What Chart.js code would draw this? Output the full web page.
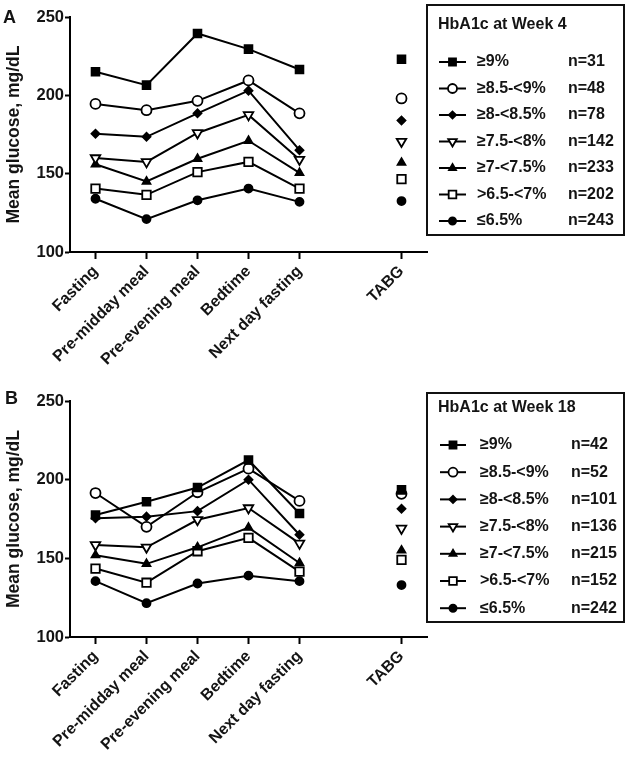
<!DOCTYPE html>
<html><head><meta charset="utf-8">
<script src="https://cdn.jsdelivr.net/npm/chart.js@4.4.0/dist/chart.umd.min.js"></script>
<style>
html,body{margin:0;padding:0;background:#fff;}
#wrap{position:relative;width:634px;height:757px;overflow:hidden;}
canvas{position:absolute;left:0;}
</style></head><body>
<div id="wrap">
<canvas id="cA" width="634" height="378" style="top:0"></canvas>
<canvas id="cB" width="634" height="379" style="top:378px"></canvas>
</div>
<script>
// ---- data ----
const categories = ['Fasting', 'Pre-midday meal', 'Pre-evening meal', 'Bedtime', 'Next day fasting', '', 'TABG'];
const groupLabels = ['≥9%', '≥8.5-<9%', '≥8-<8.5%', '≥7.5-<8%', '≥7-<7.5%', '>6.5-<7%', '≤6.5%'];
const nWeek4 = [31, 48, 78, 142, 233, 202, 243];
const nWeek18 = [42, 52, 101, 136, 215, 152, 242];
const yTicks = [100, 150, 200, 250];

// Week 4 (panel A)
const w4_ge9      = [215, 206.5, 239.5, 229.5, 216.5, null, 223];
const w4_85to9    = [194.5, 190.5, 196.5, 209.5, 188.5, null, 198];
const w4_8to85    = [175.5, 173.5, 188.5, 203, 165, null, 184];
const w4_75to8    = [160, 157.5, 176, 187.5, 159, null, 170.5];
const w4_7to75    = [156, 145, 159.5, 171, 150.5, null, 157];
const w4_65to7    = [140.5, 136.5, 151, 157.5, 140.5, null, 146.5];
const w4_le65     = [134, 121, 133, 140.5, 132, null, 132.5];

// Week 18 (panel B)
const w18_ge9     = [177.5, 186, 195, 212.5, 178.5, null, 193.5];
const w18_85to9   = [191.5, 170, 192, 207, 186.5, null, 191];
const w18_8to85   = [175.5, 176.5, 180, 200, 165, null, 181.5];
const w18_75to8   = [158.5, 157, 174.5, 182, 159.5, null, 169];
const w18_7to75   = [152, 146.5, 157, 169.5, 147, null, 155];
const w18_65to7   = [143.5, 134.5, 154.5, 163, 141.5, null, 149];
const w18_le65    = [135.5, 121.5, 134, 139, 135.5, null, 133];

const week4Series = [w4_ge9, w4_85to9, w4_8to85, w4_75to8, w4_7to75, w4_65to7, w4_le65];
const week18Series = [w18_ge9, w18_85to9, w18_8to85, w18_75to8, w18_7to75, w18_65to7, w18_le65];

// ---- styles ----
const FONT = "'Liberation Sans', Arial, sans-serif";
const INK = '#141414';
const markerStyles = [
  {pointStyle: 'rect', radius: 5.5, fill: '#000', rotation: 0},
  {pointStyle: 'circle', radius: 5, fill: '#fff', rotation: 0},
  {pointStyle: 'rectRot', radius: 4, fill: '#000', rotation: 0},
  {pointStyle: 'triangle', radius: 5.5, fill: '#fff', rotation: 180},
  {pointStyle: 'triangle', radius: 4.5, fill: '#000', rotation: 0},
  {pointStyle: 'rect', radius: 6, fill: '#fff', rotation: 0},
  {pointStyle: 'circle', radius: 4, fill: '#000', rotation: 0}
];

function drawMarker(ctx, m, x, y, scale) {
  const opts = {pointStyle: m.pointStyle, radius: m.radius * scale, borderWidth: 1.8, rotation: m.rotation};
  ctx.fillStyle = m.fill; ctx.strokeStyle = '#000'; ctx.lineWidth = 1.8;
  if (Chart.helpers && Chart.helpers.drawPoint) {
    Chart.helpers.drawPoint(ctx, opts, x, y);
  }
}

const panelPlugin = {
  id: 'panel',
  afterDraw(chart, args, o) {
    const ctx = chart.ctx;
    ctx.save();
    ctx.fillStyle = INK;
    ctx.textBaseline = 'middle';
    ctx.textAlign = 'left';
    ctx.font = 'bold 18px ' + FONT;
    ctx.fillText(o.letter, o.letterX, o.letterY);
    const b = o.box;
    ctx.lineWidth = 2; ctx.strokeStyle = '#111';
    ctx.strokeRect(b.x, b.y, b.w, b.h);
    ctx.font = 'bold 16px ' + FONT;
    ctx.fillText(o.title, b.x + 11, b.y + o.titleDy);
    groupLabels.forEach((lab, i) => {
      const y = b.y + o.rowDy + i * o.rowGap;
      ctx.beginPath(); ctx.moveTo(o.lineX0, y); ctx.lineTo(o.lineX1, y);
      ctx.lineWidth = 2; ctx.strokeStyle = '#000'; ctx.stroke();
      drawMarker(ctx, markerStyles[i], (o.lineX0 + o.lineX1) / 2, y, 0.9);
      ctx.fillStyle = INK;
      ctx.font = 'bold 16px ' + FONT;
      ctx.fillText(lab, o.labelX, y);
      ctx.fillText('n=' + o.ns[i], o.nX, y);
    });
    ctx.restore();
  }
};

function makeChart(id, series, topPad, xAxisH, panel) {
  const datasets = series.map((d, i) => {
    const m = markerStyles[i];
    return {
      label: groupLabels[i],
      data: d,
      borderColor: '#000',
      borderWidth: 2,
      pointStyle: m.pointStyle,
      pointRadius: m.radius,
      pointHoverRadius: m.radius,
      pointRotation: m.rotation,
      pointBackgroundColor: m.fill,
      pointBorderColor: '#000',
      pointBorderWidth: 1.8,
      spanGaps: false,
      tension: 0
    };
  });
  return new Chart(document.getElementById(id), {
    type: 'line',
    data: {labels: categories, datasets},
    options: {
      responsive: false,
      animation: false,
      layout: {padding: {top: topPad, right: 207, left: 0, bottom: 0}},
      plugins: {legend: {display: false}, tooltip: {enabled: false}, panel},
      scales: {
        x: {
          type: 'category',
          offset: true,
          afterFit: s => { s.height = xAxisH; },
          border: {display: true, color: '#000', width: 2},
          grid: {
            offset: false, drawOnChartArea: false, drawTicks: true, tickLength: 7, tickWidth: 2,
            tickColor: c => (c.tick && c.tick.label === '') ? 'rgba(0,0,0,0)' : '#000'
          },
          ticks: {
            autoSkip: false, minRotation: 45, maxRotation: 45, padding: 3,
            color: INK, font: {family: FONT, size: 16, weight: 'bold'}
          }
        },
        y: {
          min: 100, max: 250,
          afterFit: s => { s.width = 70; },
          afterBuildTicks: s => { s.ticks = yTicks.map(v => ({value: v})); },
          border: {display: true, color: '#000', width: 2},
          grid: {drawOnChartArea: false, drawTicks: true, tickLength: 5, tickWidth: 2, tickColor: '#000'},
          ticks: {padding: 1, color: INK, font: {family: FONT, size: 16.5, weight: 'bold'}},
          title: {
            display: true, text: 'Mean glucose, mg/dL', color: INK,
            font: {family: FONT, size: 17.5, weight: 'bold'}, padding: {top: 4, bottom: 0}
          }
        }
      }
    },
    plugins: [panelPlugin]
  });
}

makeChart('cA', week4Series, 17, 126, {
  letter: 'A', letterX: 3, letterY: 18,
  title: 'HbA1c at Week 4', ns: nWeek4,
  box: {x: 427, y: 5, w: 197, h: 230},
  titleDy: 20, rowDy: 57, rowGap: 26.5,
  lineX0: 439, lineX1: 466, labelX: 477, nX: 568
});
makeChart('cB', week18Series, 23, 120, {
  letter: 'B', letterX: 5, letterY: 21,
  title: 'HbA1c at Week 18', ns: nWeek18,
  box: {x: 427, y: 15, w: 197, h: 229},
  titleDy: 15, rowDy: 52, rowGap: 27.2,
  lineX0: 440, lineX1: 466, labelX: 480, nX: 571
});
</script>
</body></html>
